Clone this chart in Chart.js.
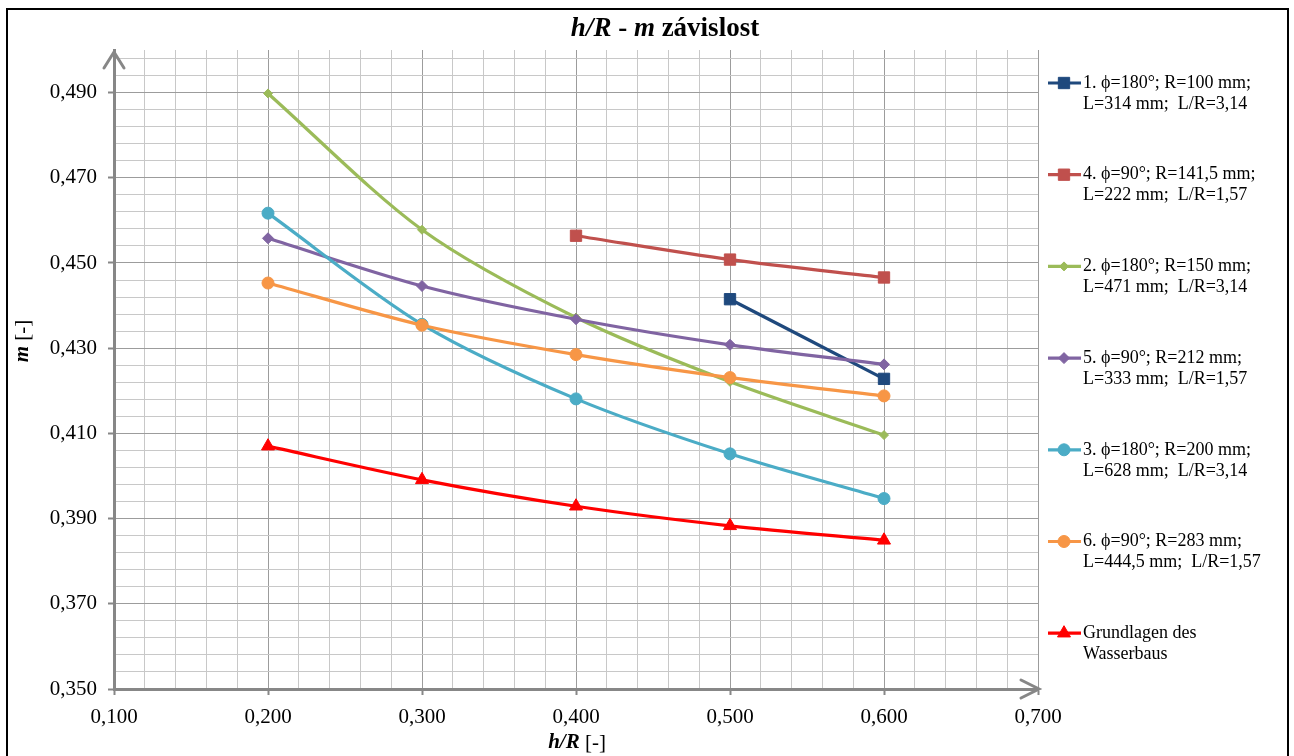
<!DOCTYPE html>
<html><head><meta charset="utf-8">
<script src="https://cdn.jsdelivr.net/npm/chart.js@4.4.1/dist/chart.umd.min.js"></script>
<style>html,body{margin:0;padding:0;background:#fff;} #wrap{width:1294px;height:756px;position:relative;}</style>
</head><body><div id="wrap"><canvas id="c" width="1294" height="756"></canvas></div>
<script>
// ---- data ----
const seriesLabels = [
  ['1. ϕ=180°; R=100 mm;', 'L=314 mm;  L/R=3,14'],
  ['4. ϕ=90°; R=141,5 mm;', 'L=222 mm;  L/R=1,57'],
  ['2. ϕ=180°; R=150 mm;', 'L=471 mm;  L/R=3,14'],
  ['5. ϕ=90°; R=212 mm;', 'L=333 mm;  L/R=1,57'],
  ['3. ϕ=180°; R=200 mm;', 'L=628 mm;  L/R=3,14'],
  ['6. ϕ=90°; R=283 mm;', 'L=444,5 mm;  L/R=1,57'],
  ['Grundlagen des', 'Wasserbaus']
];
const hR1 = [0.5, 0.6];
const m1 = [0.4415, 0.4228];
const hR4 = [0.4, 0.5, 0.6];
const m4 = [0.4564, 0.4508, 0.4466];
const hR = [0.2, 0.3, 0.4, 0.5, 0.6];
const m2 = [0.4898, 0.4578, 0.4372, 0.4221, 0.4096];
const m5 = [0.4558, 0.4446, 0.4368, 0.4308, 0.4262];
const m3 = [0.4617, 0.4356, 0.4181, 0.4052, 0.3947];
const m6 = [0.4453, 0.4354, 0.4285, 0.4231, 0.4188];
const mG = [0.4070, 0.3991, 0.3929, 0.3883, 0.3849];
const yTickLabels = ['0,350', '0,370', '0,390', '0,410', '0,430', '0,450', '0,470', '0,490'];
const xTickLabels = ['0,100', '0,200', '0,300', '0,400', '0,500', '0,600', '0,700'];
const titleParts = [['h/R', 'italic bold'], [' - ', 'bold'], ['m', 'italic bold'], [' závislost', 'bold']];
const xTitleParts = [['h/R', 'italic bold'], [' [-]', 'normal']];
const yTitleParts = [['m', 'italic bold'], [' [-]', 'normal']];

// ---- styles ----
const colors = ['#1F497D', '#C0504D', '#9BBB59', '#8064A2', '#4BACC6', '#F79646', '#FF0000'];
const styles = ['rect', 'rect', 'rectRot', 'rectRot', 'circle', 'circle', 'triangle'];
const radii = [8, 8, 4.5, 5.5, 6, 6, 7.5];
const xsList = [hR1, hR4, hR, hR, hR, hR, hR];
const ysList = [m1, m4, m2, m5, m3, m6, mG];

const FONT = '"Liberation Serif", "Times New Roman", serif';
const axisGrey = '#878787';

const datasets = ysList.map((ys, i) => ({
  label: seriesLabels[i].join(' '),
  data: ys.map((v, j) => ({x: xsList[i][j], y: v})),
  borderColor: colors[i],
  backgroundColor: colors[i],
  borderWidth: 3.2,
  pointStyle: styles[i],
  pointRadius: radii[i],
  pointBorderWidth: 1,
  pointBackgroundColor: colors[i],
  pointBorderColor: colors[i],
  tension: 0.3,
  fill: false,
  order: 7 - i
}));

function drawParts(ctx, parts, size, cx, cy) {
  let total = 0;
  const widths = parts.map(p => { ctx.font = p[1] + ' ' + size + 'px ' + FONT; const w = ctx.measureText(p[0]).width; total += w; return w; });
  let x = cx - total / 2;
  ctx.textAlign = 'left';
  ctx.textBaseline = 'middle';
  parts.forEach((p, k) => { ctx.font = p[1] + ' ' + size + 'px ' + FONT; ctx.fillText(p[0], x, cy); x += widths[k]; });
}

function drawMarker(ctx, style, x, y, r, color) {
  ctx.save();
  ctx.fillStyle = color; ctx.strokeStyle = color; ctx.lineWidth = 1;
  ctx.beginPath();
  if (style === 'rect') { const s = Math.SQRT1_2 * r; ctx.rect(x - s, y - s, 2 * s, 2 * s); }
  else if (style === 'rectRot') { ctx.moveTo(x, y - r); ctx.lineTo(x + r, y); ctx.lineTo(x, y + r); ctx.lineTo(x - r, y); ctx.closePath(); }
  else if (style === 'circle') { ctx.arc(x, y, r, 0, Math.PI * 2); }
  else if (style === 'triangle') {
    for (let k = 0; k < 3; k++) { const a = k * 2 * Math.PI / 3; const px = x + Math.sin(a) * r, py = y - Math.cos(a) * r; if (k === 0) ctx.moveTo(px, py); else ctx.lineTo(px, py); }
    ctx.closePath();
  }
  ctx.fill(); ctx.stroke();
  ctx.restore();
}

const decor = {
  id: 'decor',
  beforeDraw(chart) {
    const ctx = chart.ctx;
    ctx.save(); ctx.fillStyle = '#fff'; ctx.fillRect(0, 0, chart.width, chart.height); ctx.restore();
  },
  afterDraw(chart) {
    const ctx = chart.ctx;
    const ca = chart.chartArea;
    ctx.save();
    // axis arrows
    ctx.strokeStyle = axisGrey; ctx.lineWidth = 3; ctx.lineCap = 'round';
    ctx.beginPath();
    ctx.moveTo(ca.left - 10, ca.top + 18); ctx.lineTo(ca.left, ca.top + 2); ctx.lineTo(ca.left + 10, ca.top + 18);
    ctx.moveTo(ca.right - 17, ca.bottom - 9); ctx.lineTo(ca.right + 1, ca.bottom); ctx.lineTo(ca.right - 17, ca.bottom + 9);
    ctx.stroke();
    // titles
    ctx.fillStyle = '#000';
    drawParts(ctx, titleParts, 27, 665, 29);
    drawParts(ctx, xTitleParts, 21, 577, 743);
    ctx.save(); ctx.translate(23, 341); ctx.rotate(-Math.PI / 2);
    drawParts(ctx, yTitleParts, 21, 0, 0);
    ctx.restore();
    // legend
    chart.data.datasets.forEach((ds, i) => {
      const y0 = 83 + i * 91.7;
      ctx.strokeStyle = colors[i]; ctx.lineWidth = 3.2; ctx.lineCap = 'butt';
      ctx.beginPath(); ctx.moveTo(1048, y0); ctx.lineTo(1081, y0); ctx.stroke();
      drawMarker(ctx, styles[i], 1064, y0, radii[i], colors[i]);
      ctx.fillStyle = '#000'; ctx.font = '18px ' + FONT; ctx.textAlign = 'left'; ctx.textBaseline = 'middle';
      seriesLabels[i].forEach((t, k) => ctx.fillText(t, 1083, y0 + k * 21));
    });
    // outer border
    ctx.strokeStyle = '#000'; ctx.lineWidth = 2;
    ctx.strokeRect(7, 9, 1281, 760);
    ctx.restore();
  }
};

function buildTicks(min, step, count) {
  const arr = [];
  for (let i = 0; i < count; i++) arr.push({value: Math.round((min + i * step) * 10000) / 10000});
  return arr;
}

new Chart(document.getElementById('c'), {
  type: 'line',
  data: {datasets},
  options: {
    responsive: false,
    animation: false,
    events: [],
    layout: {padding: {top: 50, right: 256, bottom: 0, left: 0}},
    plugins: {legend: {display: false}, tooltip: {enabled: false}, title: {display: false}},
    scales: {
      x: {
        type: 'linear', min: 0.1, max: 0.7,
        afterBuildTicks: s => { s.ticks = buildTicks(0.1, 0.02, 31); },
        afterFit: s => { s.height = 67; },
        ticks: {
          autoSkip: false, maxRotation: 0, padding: 10, color: '#000',
          font: {family: FONT, size: 21},
          callback: (v, i) => (i % 5 === 0 ? xTickLabels[i / 5] : '')
        },
        grid: {
          color: c => (c.index % 5 === 0 ? '#9c9c9c' : '#c8c8c8'),
          lineWidth: 1,
          tickLength: 6,
          tickColor: c => (c.index % 5 === 0 ? axisGrey : 'rgba(0,0,0,0)'),
          tickWidth: 2
        },
        border: {color: axisGrey, width: 3}
      },
      y: {
        type: 'linear', min: 0.35, max: 0.5,
        afterBuildTicks: s => { s.ticks = buildTicks(0.35, 0.004, 38); },
        afterFit: s => { s.width = 114; },
        ticks: {
          autoSkip: false, padding: 11, color: '#000',
          font: {family: FONT, size: 21},
          callback: (v, i) => (i % 5 === 0 ? yTickLabels[i / 5] : '')
        },
        grid: {
          color: c => (c.index % 5 === 0 ? '#9c9c9c' : '#c8c8c8'),
          lineWidth: 1,
          tickLength: 6,
          tickColor: c => (c.index % 5 === 0 ? axisGrey : 'rgba(0,0,0,0)'),
          tickWidth: 2
        },
        border: {color: axisGrey, width: 3}
      }
    }
  },
  plugins: [decor]
});
</script>
</body></html>
